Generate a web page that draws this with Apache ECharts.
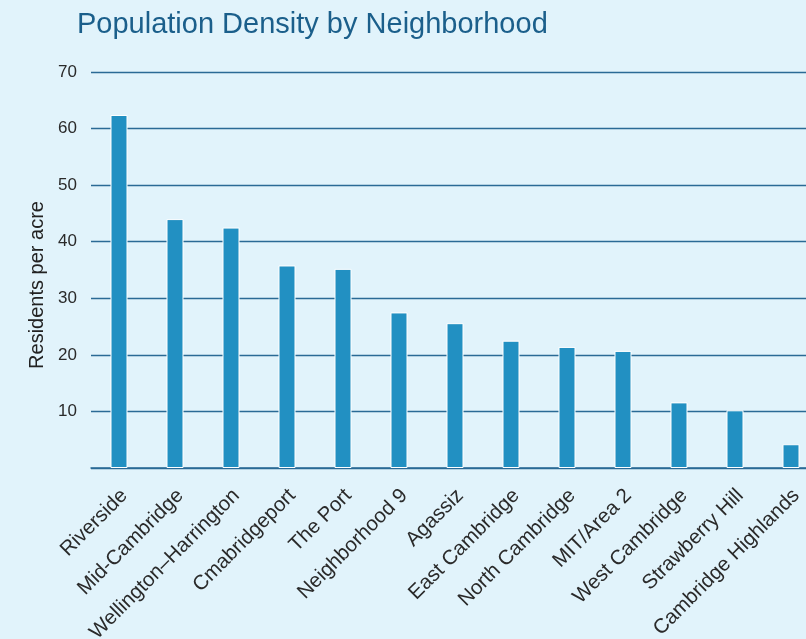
<!DOCTYPE html>
<html><head><meta charset="utf-8">
<script src="https://cdn.jsdelivr.net/npm/echarts@6/dist/echarts.min.js"></script>
<style>html,body{margin:0;padding:0;background:#e1f3fb;overflow:hidden;width:806px;height:639px;}#c{width:820px;height:639px;}</style>
</head><body><div id="c"></div>
<script>
const categories = ["Riverside","Mid-Cambridge","Wellington\u2013Harrington","Cmabridgeport","The Port","Neighborhood 9","Agassiz","East Cambridge","North Cambridge","MIT/Area 2","West Cambridge","Strawberry Hill","Cambridge Highlands"];
const density = [62.4, 44.0, 42.5, 35.8, 35.2, 27.5, 25.6, 22.5, 21.4, 20.7, 11.6, 10.2, 4.2];
const yTicks = [0, 10, 20, 30, 40, 50, 60, 70];

const FONT = '"Liberation Sans", Arial, sans-serif';
const chart = echarts.init(document.getElementById('c'));
chart.setOption({
  backgroundColor: '#e1f3fb',
  animation: false,
  title: {
    text: 'Population Density by Neighborhood',
    left: 72, top: 5,
    textStyle: {fontFamily: FONT, fontWeight: 'normal', fontSize: 29, color: '#1b5f8b'}
  },
  grid: {left: 91, right: 1, top: 72, bottom: 171, containLabel: false, outerBoundsMode: 'none'},
  xAxis: {
    type: 'category', data: categories,
    axisTick: {show: false},
    axisLine: {lineStyle: {color: '#2a6a95', width: 1.5}},
    axisLabel: {rotate: 45, interval: 0, fontSize: 20.5, color: '#2a2a2a', fontFamily: FONT,
      margin: 15, verticalAlign: 'top', padding: [0, 3, 0, 0]}
  },
  yAxis: {
    type: 'value', min: yTicks[0], max: yTicks[yTicks.length-1], interval: 10,
    name: 'Residents per acre', nameLocation: 'middle', nameGap: 44,
    nameTextStyle: {fontSize: 20, color: '#222', fontFamily: FONT, padding: [0, 30, 0, 0]},
    axisLine: {show: false}, axisTick: {show: false},
    axisLabel: {fontSize: 17, color: '#2a2a2a', margin: 14, fontFamily: FONT,
      formatter: v => v === 0 ? '' : String(v)},
    splitLine: {lineStyle: {color: '#2a6a95', width: 1.3}}
  },
  series: [{
    type: 'bar', data: density, barWidth: 17,
    itemStyle: {color: '#2290c2', borderColor: '#ffffff', borderWidth: 1}
  }]
});
</script></body></html>
